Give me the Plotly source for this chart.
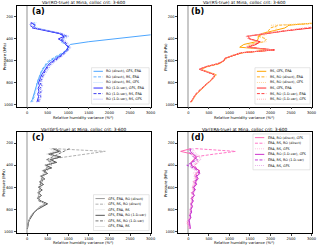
import plotly.graph_objects as go

# ---------------- data ----------------
pressure = [250, 275, 300, 325, 350, 375, 400, 425, 450, 475, 500, 525, 550, 575, 600,
            625, 650, 675, 700, 725, 750, 775, 800, 825, 850, 875, 900, 925, 950, 975]

x_ticks = [0, 500, 1000, 1500, 2000, 2500, 3000]
y_ticks = [200, 400, 600, 800, 1000]

titles = ["Var(RO-true) at Mina, colloc crit: 3-600",
          "Var(RS-true) at Mina, colloc crit: 3-600",
          "Var(GFS-true) at Mina, colloc crit: 3-600",
          "Var(ERA-true) at Mina, colloc crit: 3-600"]
panel_tags = ["(a)", "(b)", "(c)", "(d)"]
x_title = "Relative humidity variance (%²)"
y_title = "Pressure (hPa)"

labels_a = ["RO (direct), GFS, ERA", "RO (direct), RS, ERA", "RO (direct), RS, GFS",
            "RO (1-D-var), GFS, ERA", "RO (1-D-var), RS, ERA", "RO (1-D-var), RS, GFS"]
labels_b = ["RS, GFS, ERA", "RS, RO (direct), ERA", "RS, RO (direct), GFS",
            "RS, GFS, ERA", "RS, RO (1-D-var), ERA", "RS, RO (1-D-var), GFS"]
labels_c = ["GFS, ERA, RO (direct)", "GFS, RS, RO (direct)", "GFS, ERA, RS",
            "GFS, ERA, RO (1-D-var)", "GFS, RS, RO (1-D-var)", "GFS, ERA, RS"]
labels_d = ["ERA, RO (direct), GFS", "ERA, RS, RO (direct)", "ERA, RS, GFS",
            "ERA, RO (1-D-var), GFS", "ERA, RS, RO (1-D-var)", "ERA, RS, GFS"]

# (a) Var(RO-true)
a_direct_gfs_era = [7000, 6500, 6000, 5000, 3300, 2650, 2050, 1500, 1050, 1000, 980, 900, 780, 660, 560,
                    490, 430, 390, 350, 320, 300, 270, 250, 230, 220, 200, 180, 160, 130, 90]
a_direct_rs_era = [180, 150, 220, 480, 760, 930, 880, 820, 930, 1000, 950, 870, 740, 620, 520,
                   460, 410, 370, 340, 310, 280, 260, 240, 230, 210, 200, 180, 170, 150, 120]
a_direct_rs_gfs = [220, 190, 260, 560, 840, 1020, 930, 830, 960, 1050, 990, 910, 790, 670, 570,
                   500, 450, 410, 370, 340, 310, 290, 270, 250, 240, 220, 200, 190, 170, 140]
a_1dvar_gfs_era = [90, 200, 130, 420, 780, 900, 760, 880, 940, 1000, 960, 900, 820, 720, 620,
                   540, 490, 440, 400, 360, 330, 300, 280, 300, 270, 290, 260, 280, 250, 240]
a_1dvar_rs_era = [120, 60, 170, 460, 820, 960, 820, 920, 980, 1020, 990, 930, 850, 760, 660,
                  580, 520, 470, 430, 400, 360, 340, 320, 350, 310, 340, 300, 330, 290, 280]
a_1dvar_rs_gfs = [150, 100, 200, 500, 860, 1000, 860, 960, 1010, 1060, 1020, 960, 880, 790, 700,
                  620, 560, 510, 470, 430, 390, 370, 350, 380, 340, 370, 330, 350, 320, 300]

# (b) Var(RS-true)
b_gfs_era_1 = [3200, 2450, 2350, 2100, 1800, 1700, 1700, 1650, 1350, 1250, 2050, 1300, 1080, 900, 860,
               740, 470, 290, 470, 660, 620, 560, 480, 410, 340, 260, 200, 150, 110, 70]
b_direct_era = [3600, 2200, 2000, 1950, 1850, 1700, 1900, 1850, 1500, 1450, 2000, 1350, 1070, 920, 850,
                760, 480, 300, 480, 670, 610, 550, 470, 400, 330, 250, 200, 150, 100, 60]
b_direct_gfs = [3500, 2000, 2150, 2100, 1950, 1800, 1850, 1900, 1450, 1400, 1950, 1380, 1060, 950, 850,
                780, 500, 310, 500, 700, 640, 580, 500, 420, 350, 270, 210, 160, 120, 80]
b_gfs_era_2 = [4500, 3700, 3000, 2400, 1900, 1450, 1500, 1750, 1650, 1450, 2100, 1300, 1100, 900, 860,
               720, 450, 270, 450, 640, 620, 560, 480, 400, 330, 250, 190, 140, 100, 60]
b_1dvar_era = [4300, 3500, 2900, 2350, 1850, 1420, 1480, 1720, 1620, 1430, 2080, 1280, 1090, 890, 850,
               710, 440, 260, 440, 630, 600, 550, 470, 390, 320, 240, 180, 130, 90, 50]
b_1dvar_gfs = [4100, 3300, 2800, 2300, 1820, 1400, 1450, 1700, 1600, 1400, 2050, 1260, 1070, 880, 840,
               700, 430, 280, 460, 650, 610, 560, 480, 400, 330, 250, 190, 140, 100, 60]

# (c) Var(GFS-true)
c_era_direct = [700, 820, 560, 760, 600, 680, 480, 560, 400, 480, 350, 420, 320, 380, 290,
                360, 280, 340, 260, 330, 480, 340, 250, 170, 120, 80, 50, 30, 20, 10]
c_rs_direct = [650, 1900, 1420, 950, 470, 560, 600, 450, 500, 380, 420, 330, 380, 300, 350,
               280, 330, 260, 310, 280, 450, 300, 230, 160, 110, 70, 45, 25, 15, 5]
c_era_rs_1 = [550, 650, 500, 700, 550, 620, 450, 520, 380, 450, 330, 400, 300, 360, 280,
              340, 270, 320, 250, 310, 420, 320, 240, 160, 110, 70, 40, 25, 15, 5]
c_era_1dvar = [620, 780, 520, 820, 560, 720, 440, 600, 380, 500, 330, 430, 300, 400, 270,
               370, 260, 350, 250, 340, 500, 360, 260, 180, 130, 80, 50, 30, 20, 10]
c_rs_1dvar = [1030, 900, 760, 620, 480, 600, 520, 480, 440, 420, 380, 360, 340, 320, 310,
              300, 290, 280, 270, 300, 470, 330, 240, 170, 120, 75, 45, 28, 18, 8]
c_era_rs_2 = [580, 720, 480, 740, 520, 650, 420, 540, 360, 470, 310, 410, 290, 370, 270,
              350, 260, 330, 240, 320, 460, 330, 240, 170, 110, 70, 45, 25, 15, 8]

# (d) Var(ERA-true)
d_direct_gfs = [60, -190, 100, 180, 120, 60, 80, 150, 280, 200, 150, 220, 120, 180, 90,
                150, 70, 130, 60, 100, 50, 80, 40, 70, 20, 40, 0, -20, 10, 20]
d_rs_direct = [170, 1150, 620, 150, 200, 250, 140, 200, 250, 180, 210, 160, 190, 140, 160,
               120, 130, 100, 110, 90, 90, 70, 60, 50, 40, 20, 10, -10, 20, 30]
d_rs_gfs_1 = [100, 150, 200, 320, 250, 180, 150, 100, 160, 120, 180, 130, 150, 100, 120,
              90, 110, 70, 90, 60, 70, 50, 40, 30, 20, 10, -30, -40, 0, 10]
d_1dvar_gfs = [40, 50, 120, 200, 150, 80, 60, 180, 250, 280, 200, 240, 170, 200, 130,
               170, 100, 150, 80, 120, 70, 100, 60, 80, 40, 60, 20, 30, 40, 50]
d_rs_1dvar = [80, 20, 60, 120, 220, 100, -40, 120, 230, 250, 180, 210, 150, 190, 120,
              160, 90, 140, 70, 110, 60, 90, 50, 70, 30, 50, 10, 20, 30, 40]
d_rs_gfs_2 = [120, 100, 160, 260, 300, 200, 80, 60, 200, 170, 140, 190, 110, 160, 100,
              130, 80, 120, 60, 90, 50, 70, 40, 50, 20, 30, -10, 0, 20, 30]

panels = [
    (labels_a, [a_direct_gfs_era, a_direct_rs_era, a_direct_rs_gfs,
                a_1dvar_gfs_era, a_1dvar_rs_era, a_1dvar_rs_gfs]),
    (labels_b, [b_gfs_era_1, b_direct_era, b_direct_gfs,
                b_gfs_era_2, b_1dvar_era, b_1dvar_gfs]),
    (labels_c, [c_era_direct, c_rs_direct, c_era_rs_1,
                c_era_1dvar, c_rs_1dvar, c_era_rs_2]),
    (labels_d, [d_direct_gfs, d_rs_direct, d_rs_gfs_1,
                d_1dvar_gfs, d_rs_1dvar, d_rs_gfs_2]),
]

# ---------------- styles ----------------
colors = [
    ["#4da6ff", "#66b3ff", "#b8dcff", "#3030ff", "#4040f0", "#a8a8ff"],
    ["#ffa500", "#ffae1a", "#ffd699", "#ff3030", "#ff4040", "#ffb3b3"],
    ["#999999", "#b0b0b0", "#d6d6d6", "#555555", "#777777", "#c8c8c8"],
    ["#ff69b4", "#ff77c8", "#ffc0e0", "#cc33cc", "#c040d8", "#e8b0ea"],
]
dashes = ["solid", "3px,1.5px", "1px,1px", "solid", "3px,1.5px", "1px,1px"]

W, H = 320, 247
FONT = "DejaVu Sans"
# plot frames in pixels (left, right, top, bottom)
frames = [(17, 153, 6, 107), (181, 316.5, 6, 107), (17, 153, 132.6, 234), (181, 316.5, 132.6, 234)]
legend_boxes = [(93, 151.5, 68, 104.5, 71.6), (259, 315, 68, 104.5, 71.6),
                (95, 151.5, 195.5, 231.5, 199.4), (257, 315, 134.5, 170.5, 138.2)]
tag_pos = [(30, 12), (192, 12), (30, 138), (192, 138)]
xtitle_y = [117.5, 117.5, 243, 243]
ytitle_x = [4, 168, 4, 168]


def px(x):
    return x / W


def py(y):
    return 1 - y / H


fig = go.Figure()
layout = dict(width=W, height=H, margin=dict(l=0, r=0, t=0, b=0),
              paper_bgcolor="white", plot_bgcolor="white", showlegend=False,
              font=dict(family=FONT, size=4, color="black"))
shapes = []
annotations = []

for i, (labels, series) in enumerate(panels):
    xa = "x" if i == 0 else f"x{i + 1}"
    ya = "y" if i == 0 else f"y{i + 1}"
    for j, vals in enumerate(series):
        fig.add_trace(go.Scatter(x=vals, y=pressure, mode="lines", name=labels[j],
                                 xaxis=xa, yaxis=ya,
                                 line=dict(color=colors[i][j], width=1.0, dash=dashes[j])))
    l, r, t, b = frames[i]
    xkey = "xaxis" if i == 0 else f"xaxis{i + 1}"
    ykey = "yaxis" if i == 0 else f"yaxis{i + 1}"
    layout[xkey] = dict(domain=[px(l), px(r)], anchor=ya, range=[-250, 3000],
                        tickvals=x_ticks, ticks="outside", ticklen=2, tickwidth=0.6,
                        tickfont=dict(size=3.6, family=FONT), showgrid=False,
                        showline=True, linecolor="black", linewidth=0.8, mirror=True,
                        zeroline=True, zerolinecolor="#c8c8c8", zerolinewidth=1.5)
    layout[ykey] = dict(domain=[py(b), py(t)], anchor=xa, range=[1015, 100],
                        tickvals=y_ticks, ticks="outside", ticklen=2, tickwidth=0.6,
                        tickfont=dict(size=3.6, family=FONT), showgrid=False,
                        showline=True, linecolor="black", linewidth=0.8, mirror=True,
                        zeroline=False)
    # axis titles
    annotations.append(dict(text=x_title, x=px((l + r) / 2), y=py(xtitle_y[i]),
                            xref="paper", yref="paper", showarrow=False,
                            xanchor="center", yanchor="middle",
                            font=dict(size=3.8, family=FONT, color="black")))
    annotations.append(dict(text=y_title, x=px(ytitle_x[i]), y=py((t + b) / 2),
                            xref="paper", yref="paper", showarrow=False, textangle=-90,
                            xanchor="center", yanchor="middle",
                            font=dict(size=3.8, family=FONT, color="black")))
    # title
    annotations.append(dict(text=titles[i], x=px((l + r) / 2), y=py(t - 3),
                            xref="paper", yref="paper", showarrow=False,
                            xanchor="center", yanchor="middle",
                            font=dict(size=4.3, family=FONT, color="black")))
    # panel tag
    tx, ty = tag_pos[i]
    annotations.append(dict(text="<b>" + panel_tags[i] + "</b>", x=px(tx), y=py(ty),
                            xref="paper", yref="paper", showarrow=False,
                            xanchor="left", yanchor="middle",
                            font=dict(size=8, family=FONT, color="black")))
    # legend
    bl, br, bt, bb, first = legend_boxes[i]
    shapes.append(dict(type="rect", xref="paper", yref="paper",
                       x0=px(bl), x1=px(br), y0=py(bb), y1=py(bt),
                       line=dict(color="#d4d4d4", width=0.6),
                       fillcolor="rgba(255,255,255,0.85)", layer="above"))
    for j in range(6):
        yy = first + j * 5.6
        shapes.append(dict(type="line", xref="paper", yref="paper",
                           x0=px(bl + 2), x1=px(bl + 11.5), y0=py(yy), y1=py(yy),
                           line=dict(color=colors[i][j], width=1.0, dash=dashes[j]),
                           layer="above"))
        annotations.append(dict(text=labels[j], x=px(bl + 13), y=py(yy),
                                xref="paper", yref="paper", showarrow=False,
                                xanchor="left", yanchor="middle",
                                font=dict(size=3.3, family=FONT, color="black")))

layout["shapes"] = shapes
layout["annotations"] = annotations
fig.update_layout(**layout)
fig.write_html("out.html", config={"displayModeBar": False},
               post_script="document.body.style.margin='0';document.body.style.overflow='hidden';")
